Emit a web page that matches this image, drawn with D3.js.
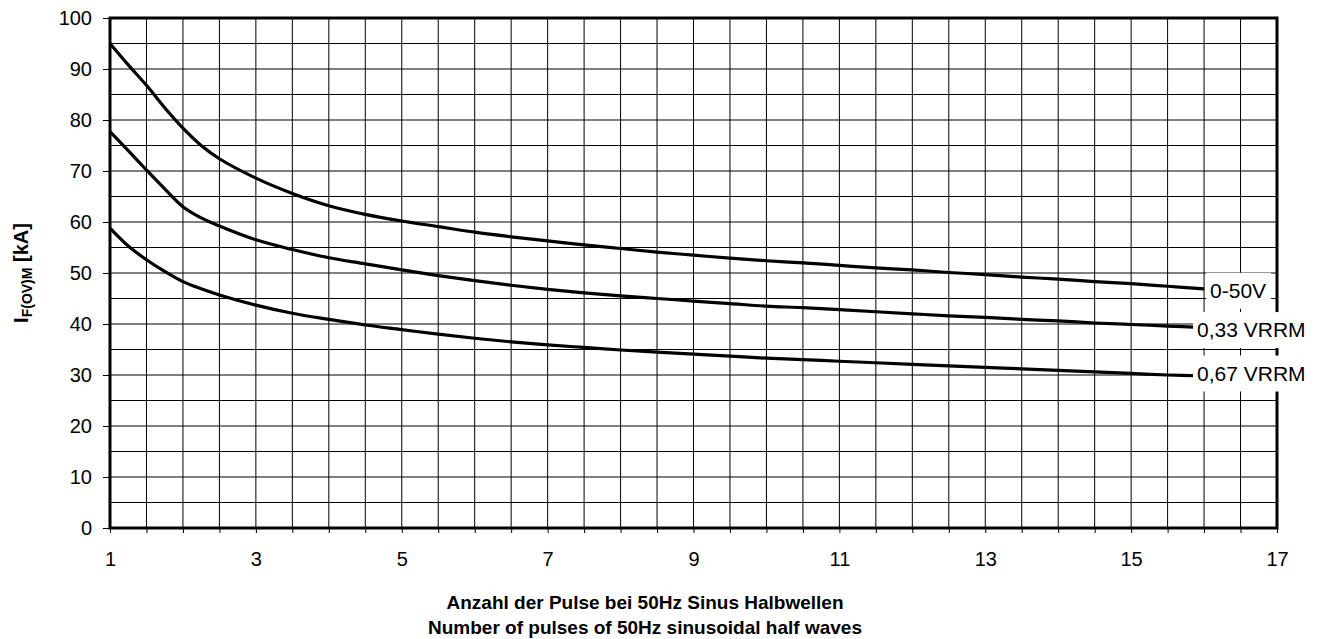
<!DOCTYPE html>
<html>
<head>
<meta charset="utf-8">
<script src="https://cdn.jsdelivr.net/npm/d3@7"></script>
<style>
  html, body { margin: 0; padding: 0; background: #fff; }
  svg { display: block; font-family: "Liberation Sans", Arial, sans-serif; }
</style>
</head>
<body>
<div id="chart"></div>
<script>
// Number of pulses (x) and surge current values (kA) per curve
const pulses = [1, 1.25, 1.5, 1.75, 2, 2.25, 2.5, 3, 3.5, 4, 4.5, 5, 5.5, 6, 6.5, 7, 7.5, 8, 8.5,
                9, 9.5, 10, 10.5, 11, 11.5, 12, 12.5, 13, 13.5, 14, 14.5, 15, 15.5, 16];
const curve0_50V = [95.0, 90.8, 86.8, 82.4, 78.4, 75.0, 72.4, 68.6, 65.6, 63.2, 61.5, 60.2, 59.1, 58.0, 57.1,
                    56.3, 55.5, 54.8, 54.1, 53.5, 52.9, 52.4, 52.0, 51.5, 51.0, 50.6, 50.1, 49.7,
                    49.2, 48.8, 48.3, 47.9, 47.4, 46.9];
const curve033 = [77.7, 74.0, 70.2, 66.5, 63.0, 60.8, 59.2, 56.5, 54.6, 53.0, 51.8, 50.6, 49.5, 48.5, 47.6,
                  46.8, 46.1, 45.5, 45.0, 44.5, 44.0, 43.5, 43.2, 42.8, 42.4, 42.0, 41.6, 41.3,
                  40.9, 40.6, 40.2, 39.9, 39.6, 39.3];
const curve067 = [58.8, 55.3, 52.6, 50.3, 48.3, 46.9, 45.7, 43.7, 42.1, 40.9, 39.8, 38.9, 38.0, 37.2, 36.5,
                  35.9, 35.4, 34.9, 34.5, 34.1, 33.7, 33.3, 33.0, 32.7, 32.4, 32.1, 31.8, 31.5,
                  31.2, 30.9, 30.6, 30.3, 30.0, 29.8];
const seriesNames = ["0-50V", "0,33 VRRM", "0,67 VRRM"];
const yTicks = [0, 10, 20, 30, 40, 50, 60, 70, 80, 90, 100];
const xLabelTicks = [1, 3, 5, 7, 9, 11, 13, 15, 17];
const xTitle = ["Anzahl der Pulse bei 50Hz Sinus Halbwellen", "Number of pulses of 50Hz sinusoidal half waves"];

const W = 1324, H = 639;
const margin = { left: 110, top: 18, right: 47, bottom: 111 };
const innerW = W - margin.left - margin.right;
const innerH = H - margin.top - margin.bottom;

const svg = d3.select("#chart").append("svg")
    .attr("width", W).attr("height", H)
    .attr("viewBox", `0 0 ${W} ${H}`);

const x = d3.scaleLinear().domain([1, 17]).range([margin.left, margin.left + innerW]);
const y = d3.scaleLinear().domain([0, 100]).range([margin.top + innerH, margin.top]);

// Grid
const grid = svg.append("g").attr("class", "grid");
grid.selectAll("line.h").data(d3.range(5, 100, 5)).join("line")
    .attr("x1", x(1)).attr("x2", x(17))
    .attr("y1", d => y(d)).attr("y2", d => y(d))
    .attr("stroke", "#000").attr("stroke-width", 1);
grid.selectAll("line.v").data(d3.range(1.5, 17, 0.5)).join("line")
    .attr("y1", y(0)).attr("y2", y(100))
    .attr("x1", d => x(d)).attr("x2", d => x(d))
    .attr("stroke", "#000").attr("stroke-width", 1);

// Curves
const allSeries = [curve0_50V, curve033, curve067];
const line = d3.line()
    .x((d, i) => x(pulses[i]))
    .y(d => y(d))
    .curve(d3.curveCatmullRom.alpha(0.5));
svg.append("g").selectAll("path").data(allSeries).join("path")
    .attr("d", d => line(d))
    .attr("fill", "none")
    .attr("stroke", "#000")
    .attr("stroke-width", 3.2)
    .attr("stroke-linejoin", "round");

// Frame
svg.append("rect")
    .attr("x", x(1)).attr("y", y(100))
    .attr("width", x(17) - x(1)).attr("height", y(0) - y(100))
    .attr("fill", "none").attr("stroke", "#000").attr("stroke-width", 3);

// Axes
const yAxis = d3.axisLeft(y).tickValues(yTicks).tickSize(7).tickPadding(11);
const gy = svg.append("g").attr("transform", `translate(${x(1)},0)`).call(yAxis);
gy.select(".domain").remove();
gy.selectAll("text").attr("font-size", 20).attr("font-family", null).attr("fill", "#000");
gy.selectAll("line").attr("stroke", "#000");

const xAxis = d3.axisBottom(x).tickValues(d3.range(1, 17.01, 0.5))
    .tickSize(5).tickPadding(19)
    .tickFormat(d => xLabelTicks.includes(d) ? d : "");
const gx = svg.append("g").attr("transform", `translate(0,${y(0)})`).call(xAxis);
gx.select(".domain").remove();
gx.selectAll("text").attr("font-size", 20).attr("font-family", null).attr("fill", "#000");
gx.selectAll("line").attr("stroke", "#000");

// Curve labels with white boxes
const labelOffsets = [{ dx: 6, dy: 9 }, { dx: -7, dy: 9.5 }, { dx: -7, dy: 4.5 }];
const lastIdx = pulses.length - 1;
allSeries.forEach((s, i) => {
    const g = svg.append("g");
    const tx = x(pulses[lastIdx]) + labelOffsets[i].dx;
    const ty = y(s[lastIdx]) + labelOffsets[i].dy;
    const rect = g.append("rect").attr("fill", "#fff");
    const t = g.append("text")
        .attr("x", tx).attr("y", ty)
        .attr("font-size", 21).attr("fill", "#000")
        .text(seriesNames[i]);
    const bb = t.node().getBBox();
    rect.attr("x", bb.x - 4).attr("width", bb.width + 9)
        .attr("y", ty - 25).attr("height", 36);
});

// Axis titles
const xt = svg.append("text")
    .attr("x", 645).attr("y", 609)
    .attr("text-anchor", "middle")
    .attr("font-size", 19).attr("font-weight", "bold");
xt.append("tspan").attr("x", 645).text(xTitle[0]);
xt.append("tspan").attr("x", 645).attr("dy", 25).text(xTitle[1]);

const yt = svg.append("text")
    .attr("transform", `translate(28,${y(50)}) rotate(-90)`)
    .attr("text-anchor", "middle")
    .attr("font-size", 20).attr("font-weight", "bold");
yt.append("tspan").text("I");
yt.append("tspan").attr("font-size", 14).attr("dy", 4).text("F(OV)M");
yt.append("tspan").attr("dy", -4).text(" [kA]");
</script>
</body>
</html>
